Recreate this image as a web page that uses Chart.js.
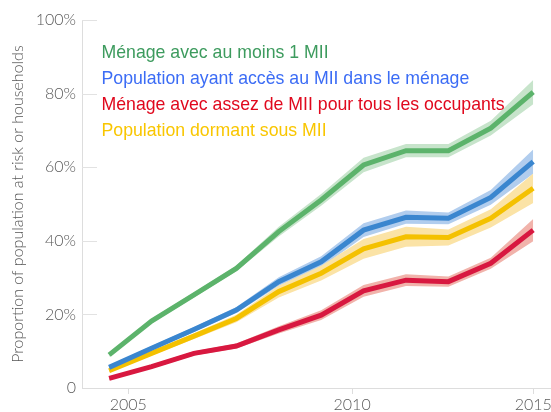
<!DOCTYPE html>
<html>
<head>
<meta charset="utf-8">
<script src="https://cdn.jsdelivr.net/npm/chart.js@4/dist/chart.umd.min.js"></script>
<style>
  html, body { margin: 0; padding: 0; background: #ffffff; }
  #wrap { width: 551px; height: 412px; }
</style>
</head>
<body>
<div id="wrap"><canvas id="c" width="551" height="412"></canvas></div>
<script>
// x positions of the survey points (equally spaced rounds)
const rounds = [0, 1, 2, 3, 4, 5, 6, 7, 8, 9, 10];
// x tick labels and where they sit along the rounds axis
const xTickLabels = ['2005', '2010', '2015'];
const xTickValues = [0.45, 5.73, 10];

const seriesNames = [
  'Ménage avec au moins 1 MII',
  'Population ayant accès au MII dans le ménage',
  'Ménage avec assez de MII pour tous les occupants',
  'Population dormant sous MII'
];

// Ménage avec au moins 1 MII
const greenMid  = [9.0, 18.2, 25.3, 32.5, 42.5, 51.1, 60.6, 64.5, 64.5, 70.6, 80.4];
const greenLow  = [8.5, 17.6, 24.6, 31.7, 41.2, 49.5, 58.6, 62.7, 62.7, 68.6, 77.1];
const greenHigh = [9.5, 18.8, 26.0, 33.3, 43.8, 52.7, 62.6, 66.3, 66.3, 72.6, 83.7];
// Population ayant accès au MII dans le ménage
const blueMid  = [5.6, 10.8, 15.9, 21.2, 28.9, 34.3, 42.9, 46.4, 46.1, 51.8, 61.5];
const blueLow  = [5.1, 10.2, 15.2, 20.4, 27.7, 32.8, 41.0, 44.6, 44.5, 49.8, 58.2];
const blueHigh = [6.1, 11.4, 16.6, 22.0, 30.1, 35.8, 44.8, 48.2, 47.7, 53.8, 64.8];
// Ménage avec assez de MII pour tous les occupants
const redMid  = [2.6, 5.8, 9.4, 11.4, 15.8, 19.8, 26.4, 29.3, 28.9, 33.9, 42.9];
const redLow  = [2.2, 5.3, 8.8, 10.7, 14.8, 18.5, 24.8, 27.7, 27.5, 32.4, 39.9];
const redHigh = [3.0, 6.3, 10.0, 12.1, 16.8, 21.1, 28.0, 30.9, 30.3, 35.4, 45.9];
// Population dormant sous MII
const yellowMid  = [4.7, 9.4, 14.1, 18.9, 26.2, 31.2, 37.8, 41.1, 40.9, 46.1, 54.3];
const yellowLow  = [4.2, 8.8, 13.3, 17.9, 24.6, 29.2, 35.1, 38.4, 38.7, 43.6, 50.3];
const yellowHigh = [5.2, 10.0, 14.9, 19.9, 27.8, 33.2, 40.5, 43.8, 43.1, 48.6, 58.3];

const yTickValues = [0, 20, 40, 60, 80, 100];

function pts(arr) { return arr.map((v, i) => ({ x: rounds[i], y: v })); }

const lineCol = { green: '#5cb36b', blue: '#3a86cf', red: '#d81840', yellow: '#f4c100' };
const bandCol = { green: '#c7e4cb', blue: '#b1cdee', red: '#f1b3ab', yellow: '#fbe3a6' };
const legendCol = ['#3d9b5e', '#3b6cf5', '#e0081d', '#f9c600'];

function band(low, high, col) {
  return [
    { data: pts(low), borderWidth: 0, pointRadius: 0, fill: false, order: 20, backgroundColor: col, borderColor: 'rgba(0,0,0,0)' },
    { data: pts(high), borderWidth: 0, pointRadius: 0, fill: '-1', order: 20, backgroundColor: col, borderColor: 'rgba(0,0,0,0)' }
  ];
}
function line(mid, col, ord) {
  return { data: pts(mid), borderColor: col, borderWidth: 5, pointRadius: 0, fill: false, order: ord, borderCapStyle: 'butt', tension: 0 };
}

const datasets = [
  ...band(greenLow, greenHigh, bandCol.green),
  ...band(yellowLow, yellowHigh, bandCol.yellow),
  ...band(blueLow, blueHigh, bandCol.blue),
  ...band(redLow, redHigh, bandCol.red),
  line(redMid, lineCol.red, 4),
  line(yellowMid, lineCol.yellow, 3),
  line(blueMid, lineCol.blue, 2),
  line(greenMid, lineCol.green, 1)
];

const tickFont = { family: 'Lato, "Open Sans", sans-serif', size: 16, weight: '300' };

const stubs = {
  id: 'stubs',
  beforeDatasetsDraw(chart) {
    const { ctx, chartArea, scales } = chart;
    ctx.save();
    ctx.strokeStyle = '#e2e2e2';
    ctx.lineWidth = 1;
    yTickValues.forEach(v => {
      if (v === 0) return;
      const y = Math.round(scales.y.getPixelForValue(v)) + 0.5;
      ctx.beginPath();
      ctx.moveTo(chartArea.left, y);
      ctx.lineTo(chartArea.left + 15, y);
      ctx.stroke();
    });
    ctx.restore();
  }
};

const legendText = {
  id: 'legendText',
  afterDraw(chart) {
    const { ctx, chartArea } = chart;
    ctx.save();
    ctx.font = '17.7px "Liberation Sans", Arial, sans-serif';
    ctx.textAlign = 'left';
    ctx.textBaseline = 'alphabetic';
    seriesNames.forEach((name, i) => {
      ctx.fillStyle = legendCol[i];
      ctx.fillText(name, chartArea.left + 19.5, chartArea.top + 37.5 + i * 26.3);
    });
    ctx.restore();
  }
};

new Chart(document.getElementById('c'), {
  type: 'line',
  data: { datasets },
  plugins: [stubs, legendText],
  options: {
    responsive: false,
    animation: false,
    events: [],
    layout: { padding: { top: 20, left: 0, right: 0, bottom: 0 } },
    plugins: { legend: { display: false }, tooltip: { enabled: false } },
    scales: {
      x: {
        type: 'linear',
        min: -0.64,
        max: 10.42,
        afterBuildTicks: (scale) => { scale.ticks = xTickValues.map(v => ({ value: v })); },
        afterFit: (scale) => { scale.height = 24; scale.paddingLeft = 0; scale.paddingRight = 0; },
        grid: { drawOnChartArea: false, drawTicks: true, tickLength: 6, color: '#dddddd' },
        border: { display: true, color: '#dddddd' },
        ticks: {
          autoSkip: false, maxRotation: 0, padding: 1,
          color: '#5a5a5a', font: tickFont,
          callback: (v, i) => xTickLabels[i]
        }
      },
      y: {
        min: 0,
        max: 100,
        afterBuildTicks: (scale) => { scale.ticks = yTickValues.map(v => ({ value: v })); },
        afterFit: (scale) => { scale.width = 82; scale.paddingTop = 0; scale.paddingBottom = 0; },
        grid: { display: false, drawOnChartArea: false, drawTicks: false },
        border: { display: true, color: '#dddddd' },
        ticks: {
          padding: 6, color: '#5a5a5a', font: tickFont,
          callback: (v) => (v === 0 ? '0' : v + '%')
        },
        title: {
          display: true,
          text: 'Proportion of population at risk or households',
          color: '#555555',
          font: { family: 'Lato, "Open Sans", sans-serif', size: 16, weight: '300' },
          padding: { top: 8, bottom: 0 }
        }
      }
    }
  }
});
</script>
</body>
</html>
